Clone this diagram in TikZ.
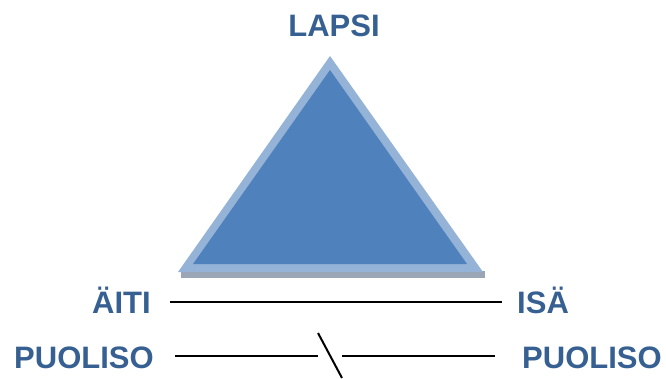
\documentclass[tikz,border=0pt]{standalone}
\usepackage{fontspec}
\setmainfont{Liberation Sans}
\definecolor{labelblue}{RGB}{55,96,146}
\definecolor{triborder}{RGB}{149,179,215}
\definecolor{trifill}{RGB}{79,129,189}
\definecolor{trishadow}{RGB}{154,165,181}
\begin{document}
\begin{tikzpicture}[x=1pt,y=-1pt,
  lbl/.style={inner sep=0pt, font=\fontsize{31}{36}\selectfont\bfseries, text=labelblue},
  rel/.style={draw=black, line width=1.6pt}]
\useasboundingbox (0,0) rectangle (666,378);
% triangle with soft shadow strip and light border
\fill[trishadow] (181,271) -- (485,271) -- (485,278) -- (181,278) -- cycle;
\fill[triborder] (330,56) -- (483,272) -- (178,272) -- cycle;
\fill[trifill] (330,70) -- (467,264) -- (193,264) -- cycle;
% labels
\node[lbl, anchor=base] (lapsi) at (334,36) {LAPSI};
\node[lbl, anchor=base west] (aiti) at (92,313) {ÄITI};
\node[lbl, anchor=base west] (isa) at (517,313) {ISÄ};
\node[lbl, anchor=base west] (puolisoL) at (14,368) {PUOLISO};
\node[lbl, anchor=base west] (puolisoR) at (522,368) {PUOLISO};
% relations
\draw[rel] ([xshift=19pt,yshift=11pt]aiti.base east) -- ([xshift=-15pt,yshift=11pt]isa.base west);
\coordinate (breakL) at (318,356);
\coordinate (breakR) at (342,356);
\coordinate (cutTop) at (318,333);
\coordinate (cutBot) at (342,378);
\draw[rel] ([xshift=21pt,yshift=12pt]puolisoL.base east) -- (breakL);
\draw[rel] (breakR) -- ([xshift=-27pt,yshift=12pt]puolisoR.base west);
\draw[rel, line width=2pt] (cutTop) -- (cutBot);
\end{tikzpicture}
\end{document}
